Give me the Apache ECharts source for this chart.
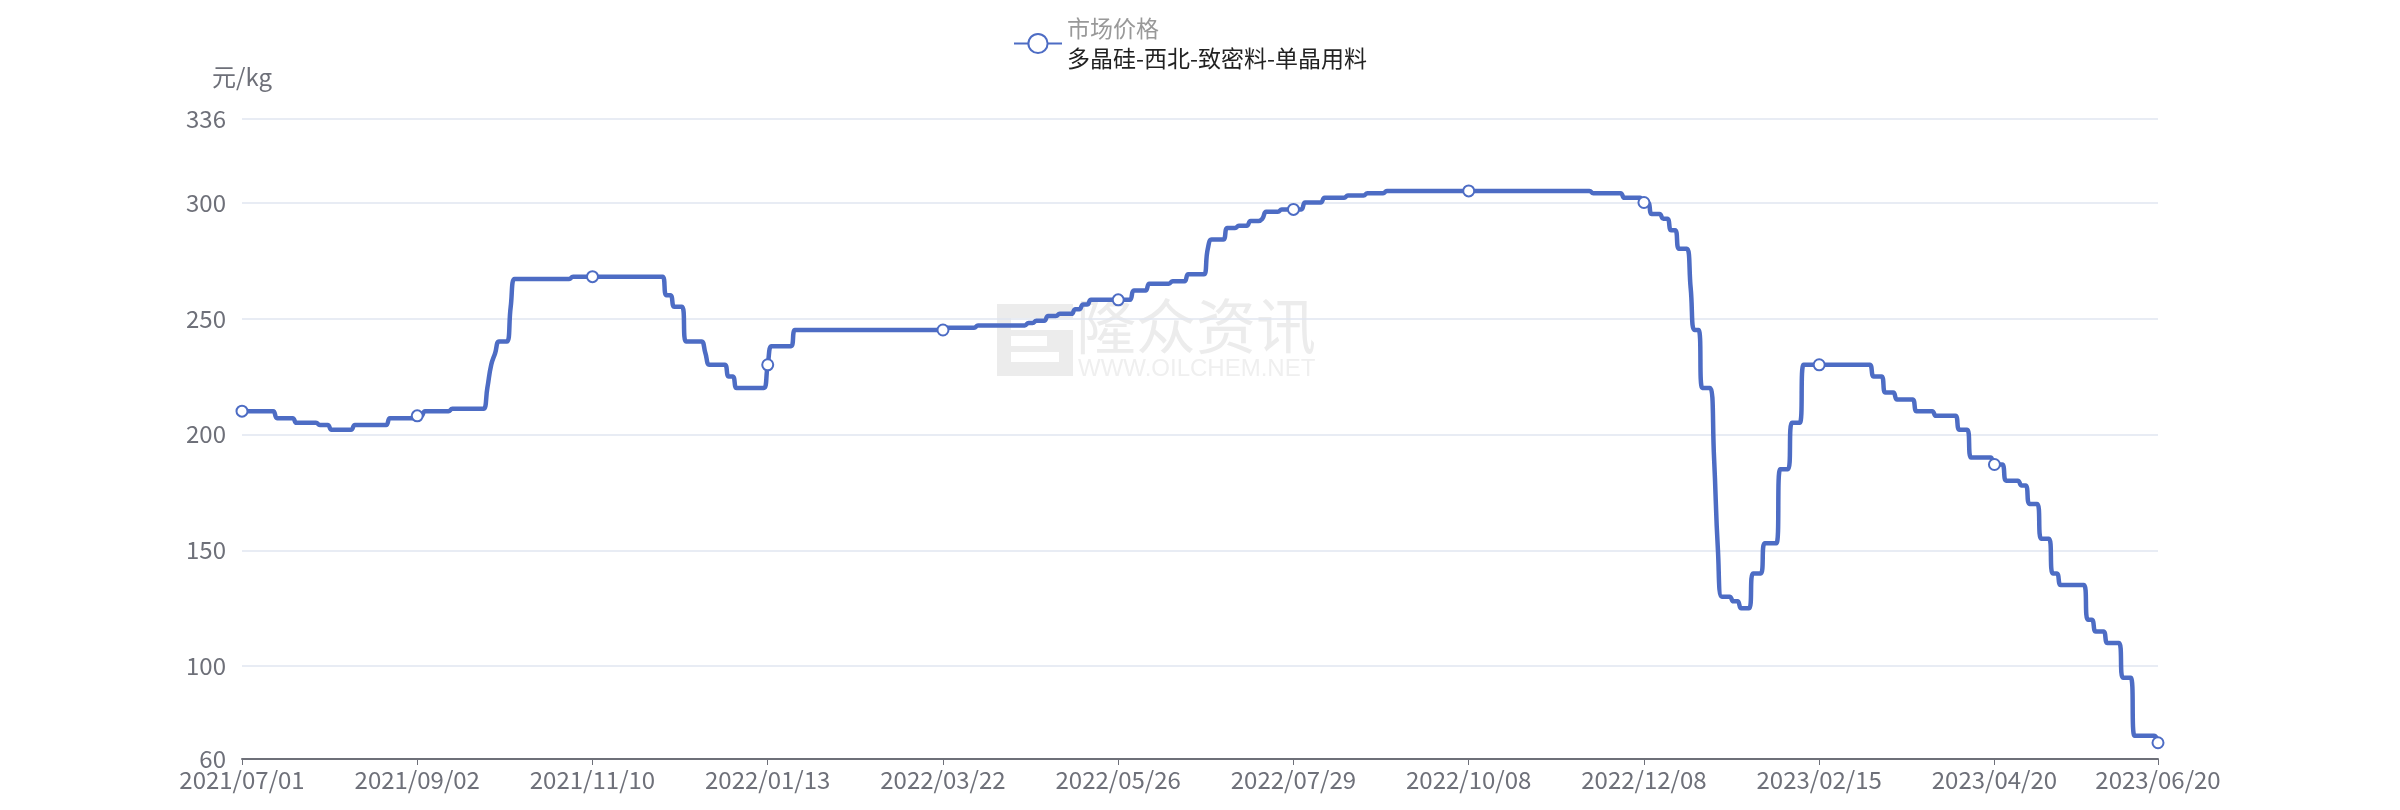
<!DOCTYPE html>
<html>
<head>
<meta charset="utf-8">
<script src="https://cdn.jsdelivr.net/npm/echarts@6/dist/echarts.min.js"></script>
<style>
html,body{margin:0;padding:0;background:#fff;}
#chart{width:2400px;height:810px;}
</style>
</head>
<body>
<div id="chart"></div>
<script>
// Trading-day calendar (Chinese business days) for the category axis
const startDate = '2021-07-01';
const endDate = '2023-06-20';
const holidays = ['2021-09-20','2021-09-21','2021-10-01','2021-10-04','2021-10-05','2021-10-06','2021-10-07',
  '2022-01-03','2022-01-31','2022-02-01','2022-02-02','2022-02-03','2022-02-04','2022-04-04','2022-04-05',
  '2022-05-02','2022-05-03','2022-05-04','2022-06-03','2022-09-12','2022-10-03','2022-10-04','2022-10-05',
  '2022-10-06','2022-10-07','2023-01-02','2023-01-23','2023-01-24','2023-01-25','2023-01-26','2023-01-27',
  '2023-04-05','2023-05-01','2023-05-02','2023-05-03'];
const extraWorkdays = ['2021-09-18','2021-09-26','2021-10-09','2022-01-29','2022-01-30','2022-04-02',
  '2022-04-24','2022-05-07','2022-10-08','2022-10-09','2023-01-28','2023-01-29','2023-04-23','2023-05-06'];

const legendTitle = '市场价格';
const seriesName = '多晶硅-西北-致密料-单晶用料';
const unitName = '元/kg';

// 多晶硅-西北-致密料-单晶用料 price (元/kg), one value per business day
const prices = [
  210,210,210,210,210,210,210,210,210,207,
  207,207,207,207,205,205,205,205,205,205,
  204,204,204,202,202,202,202,202,202,204,
  204,204,204,204,204,204,204,204,207,207,
  207,207,207,207,207,208,208,210,210,210,
  210,210,210,210,211,211,211,211,211,211,
  211,211,211,220,230,235,240,240,240,255,
  267,267,267,267,267,267,267,267,267,267,
  267,267,267,267,267,268,268,268,268,268,
  268,268,268,268,268,268,268,268,268,268,
  268,268,268,268,268,268,268,268,268,260,
  260,255,255,255,240,240,240,240,240,235,
  230,230,230,230,230,225,225,220,220,220,
  220,220,220,220,220,230,238,238,238,238,
  238,238,245,245,245,245,245,245,245,245,
  245,245,245,245,245,245,245,245,245,245,
  245,245,245,245,245,245,245,245,245,245,
  245,245,245,245,245,245,245,245,245,245,
  245,246,246,246,246,246,246,246,246,247,
  247,247,247,247,247,247,247,247,247,247,
  247,247,248,248,249,249,249,251,251,251,
  252,252,252,252,254,254,256,256,258,258,
  258,258,258,258,258,258,258,258,258,262,
  262,262,262,265,265,265,265,265,265,266,
  266,266,266,269,269,269,269,269,280,284,
  284,284,284,289,289,289,290,290,290,292,
  292,292,293,296,296,296,296,297,297,297,
  297,297,297,300,300,300,300,300,302,302,
  302,302,302,302,303,303,303,303,303,304,
  304,304,304,304,305,305,305,305,305,305,
  305,305,305,305,305,305,305,305,305,305,
  305,305,305,305,305,305,305,305,305,305,
  305,305,305,305,305,305,305,305,305,305,
  305,305,305,305,305,305,305,305,305,305,
  305,305,305,305,305,305,305,304,304,304,
  304,304,304,304,304,302,302,302,302,302,
  300,300,295,295,295,293,293,288,288,280,
  280,280,263,245,245,220,220,220,190,150,
  130,130,130,128,128,125,125,125,140,140,
  140,153,153,153,153,185,185,185,205,205,
  205,230,230,230,230,230,230,230,230,230,
  230,230,230,230,230,230,230,230,230,225,
  225,225,218,218,218,215,215,215,215,215,
  210,210,210,210,210,208,208,208,208,208,
  208,202,202,202,190,190,190,190,190,190,
  187,187,187,180,180,180,180,178,178,170,
  170,170,155,155,155,140,140,135,135,135,
  135,135,135,135,120,120,115,115,115,110,
  110,110,110,95,95,95,70,70,70,70,
  70,70,67
];

const yMin = 60;
const yMax = 336;

function buildDates(start, end, off, extra) {
  const offSet = new Set(off), extraSet = new Set(extra);
  const out = [];
  const d = new Date(start + 'T00:00:00Z');
  const e = new Date(end + 'T00:00:00Z');
  while (d <= e) {
    const y = d.getUTCFullYear();
    const m = String(d.getUTCMonth() + 1).padStart(2, '0');
    const dd = String(d.getUTCDate()).padStart(2, '0');
    const key = y + '-' + m + '-' + dd;
    const wd = d.getUTCDay();
    const isWork = (wd !== 0 && wd !== 6 && !offSet.has(key)) || extraSet.has(key);
    if (isWork) out.push(y + '/' + m + '/' + dd);
    d.setUTCDate(d.getUTCDate() + 1);
  }
  return out;
}
const dates = buildDates(startDate, endDate, holidays, extraWorkdays);
const labelStep = 45;
const showIdx = (idx) => idx % labelStep === 0 || idx === dates.length - 1;

const FONT = '"Noto Sans CJK SC", "Noto Sans", sans-serif';
const LINE = '#4d6cc4';
const chart = echarts.init(document.getElementById('chart'), null, {renderer: 'canvas'});
chart.setOption({
  animation: false,
  backgroundColor: '#ffffff',
  textStyle: {fontFamily: FONT},
  graphic: [
    {type: 'group', left: 997, top: 304, z: -10, children: [
      {type: 'rect', shape: {x: 0, y: 0, width: 76, height: 72}, style: {fill: '#ececec'}},
      {type: 'rect', shape: {x: 14, y: 14, width: 62, height: 12}, style: {fill: '#ffffff'}},
      {type: 'rect', shape: {x: 14, y: 32, width: 36, height: 10}, style: {fill: '#ffffff'}},
      {type: 'rect', shape: {x: 14, y: 48, width: 48, height: 10}, style: {fill: '#ffffff'}}
    ]},
    {type: 'text', left: 1076, top: 296, z: -10,
      style: {text: '隆众资讯', fill: '#ececec', font: '400 60px ' + FONT}},
    {type: 'text', left: 1078, top: 357, z: -10,
      style: {text: 'WWW.OILCHEM.NET', fill: '#efefef', font: '400 24px "Liberation Sans", sans-serif'}}
  ],
  legend: {
    top: 12,
    left: 1008,
    itemWidth: 48,
    itemHeight: 24,
    itemGap: 10,
    data: [seriesName],
    formatter: () => '{a|' + legendTitle + '}\n{b|' + seriesName + '}',
    textStyle: {
      rich: {
        a: {fontSize: 23, color: '#999999', lineHeight: 30, fontFamily: FONT},
        b: {fontSize: 23, color: '#222222', lineHeight: 30, fontFamily: FONT}
      }
    }
  },
  grid: {left: 242, right: 242, top: 119, bottom: 51},
  xAxis: {
    type: 'category',
    boundaryGap: false,
    data: dates,
    axisLine: {lineStyle: {color: '#6E7079', width: 2}},
    axisTick: {show: true, interval: showIdx, length: 6, lineStyle: {color: '#6E7079', width: 1}},
    axisLabel: {interval: showIdx, color: '#6E7079', fontSize: 24, margin: 9, fontFamily: FONT},
    splitLine: {show: false}
  },
  yAxis: {
    type: 'value',
    min: yMin,
    max: yMax,
    name: unitName,
    nameLocation: 'end',
    nameGap: 30,
    nameTextStyle: {color: '#6E7079', fontSize: 24, align: 'center', fontFamily: FONT},
    axisLine: {show: false},
    axisTick: {show: false},
    axisLabel: {color: '#6E7079', fontSize: 24, margin: 16, fontFamily: FONT},
    splitLine: {lineStyle: {color: '#E0E6F1', width: 1.5}}
  },
  series: [{
    name: seriesName,
    type: 'line',
    data: prices,
    smooth: true,
    symbol: 'emptyCircle',
    symbolSize: 11,
    showAllSymbol: 'auto',
    itemStyle: {color: LINE, borderWidth: 3},
    lineStyle: {color: LINE, width: 4.5},
    z: 5
  }]
});
</script>
</body>
</html>
